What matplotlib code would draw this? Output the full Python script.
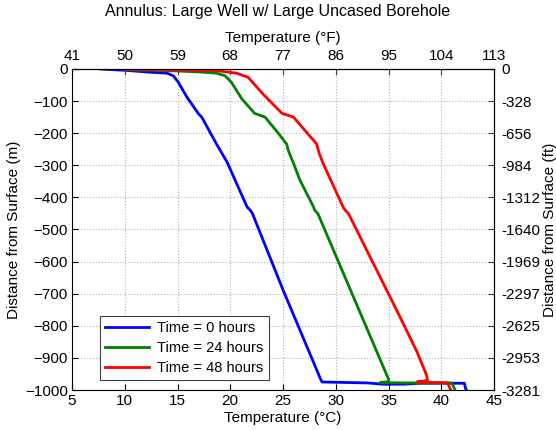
import matplotlib
matplotlib.use("Agg")
import matplotlib.pyplot as plt

plt.rcParams['font.family'] = ['Liberation Sans', 'DejaVu Sans']

# ---- data ----
blue_T = [7.7, 10.0, 12.4, 14.0, 14.6, 15.05, 15.9, 17.0, 17.3, 18.7, 19.7, 21.6, 21.9, 22.1, 25.0, 28.6, 28.7, 33.0, 34.5, 36.5, 38.0, 42.2, 42.3, 42.4]
blue_d = [0, -4, -10, -13, -21, -40, -88, -140, -150, -234, -290, -430, -440, -450, -688, -969, -975, -978, -982, -982, -979, -979, -995, -1000]

green_T = [10.0, 14.0, 17.0, 18.7, 19.5, 20.1, 21.1, 22.3, 23.3, 24.6, 25.35, 25.5, 26.0, 26.6, 27.9, 28.0, 28.3, 35.0, 35.0, 34.2, 37.0, 41.0, 41.2, 41.3]
green_d = [-2, -5, -9, -13, -21, -41, -93, -138, -150, -202, -234, -254, -294, -346, -430, -440, -450, -966, -974, -977, -978, -978, -992, -1000]

red_T = [10.0, 15.0, 18.7, 20.6, 21.7, 23.1, 24.9, 26.0, 28.2, 28.4, 28.8, 30.7, 30.9, 31.2, 36.1, 37.7, 38.6, 38.7, 37.7, 40.6, 40.8, 40.9]
red_d = [-1, -3, -5, -13, -26, -78, -138, -150, -234, -260, -294, -430, -440, -450, -773, -881, -953, -970, -975, -978, -993, -1000]

series_labels = ['Time = 0 hours', 'Time = 24 hours', 'Time = 48 hours']

c_ticks = [5, 10, 15, 20, 25, 30, 35, 40, 45]
f_labels = ['41', '50', '59', '68', '77', '86', '95', '104', '113']
m_ticks = [0, -100, -200, -300, -400, -500, -600, -700, -800, -900, -1000]
ft_labels = ['0', '-328', '-656', '-984', '-1312', '-1640', '-1969', '-2297', '-2625', '-2953', '-3281']

# ---- figure ----
fig = plt.figure(figsize=(5.56, 4.30), dpi=100)
ax = fig.add_axes([72/556, 1 - 390/430, 422/556, 321/430])

fs = 11
ax.plot(blue_T, blue_d, color=(0, 0, 1), lw=2, label=series_labels[0])
ax.plot(green_T, green_d, color=(0, 0.5, 0), lw=2, label=series_labels[1])
ax.plot(red_T, red_d, color=(1, 0, 0), lw=2, label=series_labels[2])

ax.set_xlim(5, 45)
ax.set_ylim(-1000, 0)
ax.set_xticks(c_ticks)
ax.set_yticks(m_ticks)
ax.tick_params(axis='x', direction='in', length=4, labelsize=fs, top=False, pad=3)
ax.tick_params(axis='y', direction='in', length=4, labelsize=fs, right=False, pad=3)
ax.grid(True, linestyle=':', color='#b0b0b0', lw=0.8)
ax.set_xlabel('Temperature (°C)', fontsize=fs, labelpad=2)
ax.set_ylabel('Distance from Surface (m)', fontsize=fs, labelpad=3)

secx = ax.secondary_xaxis('top')
secx.set_xticks(c_ticks, labels=f_labels)
secx.tick_params(direction='in', length=4, labelsize=fs, pad=4)
secx.set_xlabel('Temperature (°F)', fontsize=fs, labelpad=5)

secy = ax.secondary_yaxis('right')
secy.set_yticks(m_ticks, labels=ft_labels)
secy.tick_params(direction='in', length=4, labelsize=fs, pad=5)
secy.set_ylabel('Distance from Surface (ft)', fontsize=fs, labelpad=2)

fig.suptitle('Annulus: Large Well w/ Large Uncased Borehole', fontsize=11.5, y=0.99)

leg = ax.legend(loc='lower left', bbox_to_anchor=(0.066, 0.031), borderaxespad=0,
                fontsize=10.5, fancybox=False, framealpha=1, edgecolor='#404040',
                handlelength=3.0, handletextpad=0.6, labelspacing=0.42, borderpad=0.35)
leg.get_frame().set_linewidth(0.8)

fig.savefig('out.png', dpi=100)
